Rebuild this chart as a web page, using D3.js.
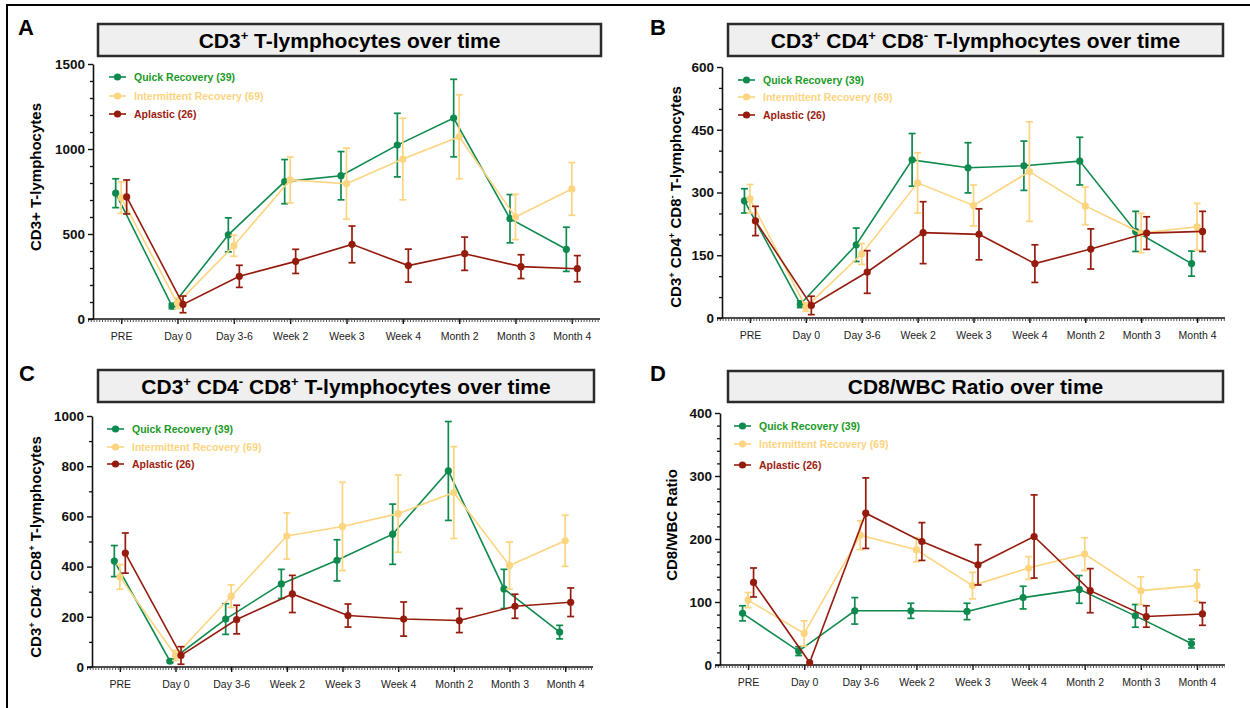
<!DOCTYPE html>
<html>
<head>
<meta charset="utf-8">
<script src="https://cdn.jsdelivr.net/npm/d3@7"></script>
<style>
  body { margin: 0; background: #fff; }
  svg { display: block; font-family: "Liberation Sans", Arial, sans-serif; }
</style>
</head>
<body>
<svg id="fig" width="1250" height="708"></svg>
<script>
// --- data ---
const timepoints = ["PRE", "Day 0", "Day 3-6", "Week 2", "Week 3", "Week 4", "Month 2", "Month 3", "Month 4"];
const groupNames = ["Quick Recovery (39)", "Intermittent Recovery (69)", "Aplastic (26)"];

// A: CD3+
const cd3Quick = [740, 76, 495, 808, 843, 1023, 1182, 590, 410];
const cd3QuickErr = [85, 15, 100, 130, 142, 187, 228, 142, 130];
const cd3Inter = [714, 92, 431, 818, 796, 941, 1072, 600, 765];
const cd3InterErr = [93, 30, 62, 135, 209, 240, 247, 133, 155];
const cd3Aplastic = [718, 86, 251, 339, 439, 314, 384, 308, 296];
const cd3AplasticErr = [100, 49, 65, 71, 108, 97, 98, 70, 77];

// B: CD3+ CD4+ CD8-
const cd4Quick = [280, 33, 175, 378, 359, 364, 375, 207, 130];
const cd4QuickErr = [29, 8, 40, 63, 60, 59, 57, 48, 30];
const cd4Inter = [285, 26, 153, 323, 269, 350, 268, 203, 218];
const cd4InterErr = [34, 10, 25, 72, 49, 119, 45, 47, 56];
const cd4Aplastic = [232, 30, 110, 204, 200, 130, 165, 203, 207];
const cd4AplasticErr = [35, 22, 51, 74, 61, 45, 48, 39, 48];

// C: CD3+ CD4- CD8+
const cd8Quick = [422, 23, 191, 331, 425, 529, 781, 311, 139];
const cd8QuickErr = [62, 5, 61, 58, 82, 120, 197, 78, 27];
const cd8Inter = [359, 46, 282, 522, 560, 611, 695, 404, 503];
const cd8InterErr = [49, 20, 45, 92, 176, 154, 183, 94, 102];
const cd8Aplastic = [454, 46, 189, 291, 205, 191, 185, 242, 258];
const cd8AplasticErr = [80, 35, 57, 74, 46, 68, 48, 48, 57];

// D: CD8/WBC ratio
const ratioQuick = [82, 22, 86, 86, 85, 107, 120, 78, 34];
const ratioQuickErr = [12, 7, 21, 12, 13, 18, 22, 18, 7];
const ratioInter = [103, 50, 206, 183, 126, 154, 176, 118, 126];
const ratioInterErr = [12, 20, 23, 19, 21, 18, 26, 22, 25];
const ratioAplastic = [131, 4, 241, 196, 159, 204, 118, 77, 81];
const ratioAplasticErr = [23, 0, 56, 30, 32, 66, 35, 17, 18];

const lineColors = ["#0e8a4e", "#fdd47f", "#951b0d"];
const textColors = ["#1a9a26", "#fdd47f", "#9c1c10"];
const offsets = [-5.5, 0, 5.5];   // GraphPad-style nudge per group

// "^" marks the next char as superscript
const panels = [
  { letter: "A", title: "CD3^+ T-lymphocytes over time", ylabel: "CD3+ T-lymphocytes",
    series: [[cd3Quick, cd3QuickErr], [cd3Inter, cd3InterErr], [cd3Aplastic, cd3AplasticErr]],
    ymax: 1500, major: 500, minor: 100,
    x0: 93, x1: 600, y0: 319, y1: 64,
    box: [98, 24, 601, 56], letterPos: [18, 35],
    legX: 109, legRows: [77, 96, 114], ylabX: 41, ylabY: 177 },
  { letter: "B", title: "CD3^+ CD4^+ CD8^- T-lymphocytes over time", ylabel: "CD3^+ CD4^+ CD8^- T-lymphocytes",
    series: [[cd4Quick, cd4QuickErr], [cd4Inter, cd4InterErr], [cd4Aplastic, cd4AplasticErr]],
    ymax: 600, major: 150, minor: 50,
    x0: 722, x1: 1225, y0: 318, y1: 67,
    box: [728, 24, 1223, 56], letterPos: [650, 35],
    legX: 738, legRows: [80, 97, 115], ylabX: 681, ylabY: 197 },
  { letter: "C", title: "CD3^+ CD4^- CD8^+ T-lymphocytes over time", ylabel: "CD3^+ CD4^- CD8^+ T-lymphocytes",
    series: [[cd8Quick, cd8QuickErr], [cd8Inter, cd8InterErr], [cd8Aplastic, cd8AplasticErr]],
    ymax: 1000, major: 200, minor: 100,
    x0: 92, x1: 593, y0: 667, y1: 416,
    box: [98, 370, 594, 402], letterPos: [19, 381],
    legX: 107, legRows: [429, 447, 464], ylabX: 41, ylabY: 547 },
  { letter: "D", title: "CD8/WBC Ratio over time", ylabel: "CD8/WBC Ratio",
    series: [[ratioQuick, ratioQuickErr], [ratioInter, ratioInterErr], [ratioAplastic, ratioAplasticErr]],
    ymax: 400, major: 100, minor: 20,
    x0: 720, x1: 1225, y0: 665, y1: 413,
    box: [728, 371, 1223, 402], letterPos: [650, 381],
    legX: 734, legRows: [426, 444, 465], ylabX: 677, ylabY: 525 }
];

const svg = d3.select("#fig");

// frame of the figure (left + top edges only visible)
svg.append("path")
  .attr("d", "M7,708 V5 H1250")
  .attr("fill", "none").attr("stroke", "#000").attr("stroke-width", 2);

// write text with ^x superscripts into a <text>
function richText(sel, str, size) {
  let parts = [], buf = "";
  for (let i = 0; i < str.length; i++) {
    if (str[i] === "^") {
      if (buf) parts.push([buf, false]);
      buf = "";
      parts.push([str[i + 1], true]);
      i++;
    } else buf += str[i];
  }
  if (buf) parts.push([buf, false]);
  let shift = size * 0.38, raised = false;
  parts.forEach(p => {
    const t = sel.append("tspan").text(p[0]);
    if (p[1]) {
      t.attr("font-size", size * 0.62).attr("dy", raised ? 0 : -shift);
      raised = true;
    } else {
      t.attr("font-size", size).attr("dy", raised ? shift : 0);
      raised = false;
    }
  });
}

panels.forEach(p => {
  const g = svg.append("g");

  const x = d3.scalePoint().domain(timepoints).range([p.x0, p.x1]).padding(0.5);
  const y = d3.scaleLinear().domain([0, p.ymax]).range([p.y0, p.y1]);

  // panel letter
  g.append("text").attr("x", p.letterPos[0]).attr("y", p.letterPos[1])
    .attr("font-size", 22).attr("font-weight", "bold").attr("fill", "#000").text(p.letter);

  // title box
  g.append("rect")
    .attr("x", p.box[0]).attr("y", p.box[1])
    .attr("width", p.box[2] - p.box[0]).attr("height", p.box[3] - p.box[1])
    .attr("fill", "#efefef").attr("stroke", "#2b2b2b").attr("stroke-width", 2.5);
  const tt = g.append("text")
    .attr("x", (p.box[0] + p.box[2]) / 2).attr("y", (p.box[1] + p.box[3]) / 2 + 7.5)
    .attr("text-anchor", "middle").attr("font-weight", "bold").attr("fill", "#000");
  richText(tt, p.title, 21);

  // y axis: minor then major
  const minors = d3.range(0, p.ymax + 0.001, p.minor).filter(v => v % p.major !== 0);
  const majors = d3.range(0, p.ymax + 0.001, p.major);
  const yMinor = g.append("g").attr("transform", `translate(${p.x0},0)`)
    .call(d3.axisLeft(y).tickValues(minors).tickSize(3).tickFormat(""));
  yMinor.select(".domain").remove();
  yMinor.selectAll("line").attr("stroke", "#111").attr("stroke-width", 1.3);
  const yAx = g.append("g").attr("transform", `translate(${p.x0},0)`)
    .call(d3.axisLeft(y).tickValues(majors).tickFormat(d3.format("d"))
      .tickSize(5).tickSizeOuter(0).tickPadding(3));
  yAx.select(".domain").attr("stroke", "#111").attr("stroke-width", 1.6);
  yAx.selectAll(".tick line").attr("stroke", "#111").attr("stroke-width", 1.4);
  yAx.selectAll("text").attr("font-size", 13.5).attr("font-weight", "bold")
    .attr("fill", "#111").attr("font-family", "Liberation Sans, Arial, sans-serif");

  // x axis
  const xAx = g.append("g").attr("transform", `translate(0,${p.y0})`)
    .call(d3.axisBottom(x).tickSize(5).tickSizeOuter(0).tickPadding(9));
  xAx.select(".domain").attr("d", `M${p.x0 - 5},0H${p.x1}`)
    .attr("stroke", "#111").attr("stroke-width", 1.6);
  xAx.selectAll(".tick line").attr("stroke", "#111").attr("stroke-width", 1.4);
  xAx.selectAll("text").attr("font-size", 10.5).attr("fill", "#222")
    .attr("font-family", "Liberation Sans, Arial, sans-serif");
  // dense minor ticks under the x axis
  g.append("line")
    .attr("x1", p.x0 - 5).attr("x2", p.x1).attr("y1", p.y0 + 2).attr("y2", p.y0 + 2)
    .attr("stroke", "#555").attr("stroke-width", 2).attr("stroke-dasharray", "1,1.8");

  // y label
  const yl = g.append("text")
    .attr("transform", `translate(${p.ylabX},${p.ylabY}) rotate(-90)`)
    .attr("text-anchor", "middle").attr("font-weight", "bold").attr("fill", "#000");
  richText(yl, p.ylabel, 15);

  // series
  p.series.forEach((s, k) => {
    const vals = s[0], errs = s[1];
    const pts = timepoints.map((t, i) => ({ t: t, v: vals[i], e: errs[i] }));
    const sg = g.append("g");
    const col = lineColors[k];
    const cx = d => x(d.t) + offsets[k];

    sg.append("path").datum(pts)
      .attr("d", d3.line().x(cx).y(d => y(d.v)))
      .attr("fill", "none").attr("stroke", col).attr("stroke-width", 1.6);

    const eb = sg.selectAll(".err").data(pts.filter(d => d.e > 0)).enter().append("g");
    eb.append("line")
      .attr("x1", cx).attr("x2", cx)
      .attr("y1", d => y(d.v - d.e)).attr("y2", d => y(d.v + d.e))
      .attr("stroke", col).attr("stroke-width", 1.7);
    [1, -1].forEach(sign => {
      eb.append("line")
        .attr("x1", d => cx(d) - 3.5).attr("x2", d => cx(d) + 3.5)
        .attr("y1", d => y(d.v + sign * d.e)).attr("y2", d => y(d.v + sign * d.e))
        .attr("stroke", col).attr("stroke-width", 1.7);
    });

    sg.selectAll("circle").data(pts).enter().append("circle")
      .attr("cx", cx).attr("cy", d => y(d.v)).attr("r", 3.6)
      .attr("fill", col);

    // legend entry
    const ly = p.legRows[k];
    g.append("line").attr("x1", p.legX).attr("x2", p.legX + 17)
      .attr("y1", ly).attr("y2", ly).attr("stroke", col).attr("stroke-width", 1.6);
    g.append("circle").attr("cx", p.legX + 8.5).attr("cy", ly).attr("r", 3.6).attr("fill", col);
    g.append("text").attr("x", p.legX + 25).attr("y", ly).attr("dy", "0.35em")
      .attr("font-size", 10.5).attr("font-weight", "bold").attr("fill", textColors[k])
      .text(groupNames[k]);
  });
});
</script>
</body>
</html>
